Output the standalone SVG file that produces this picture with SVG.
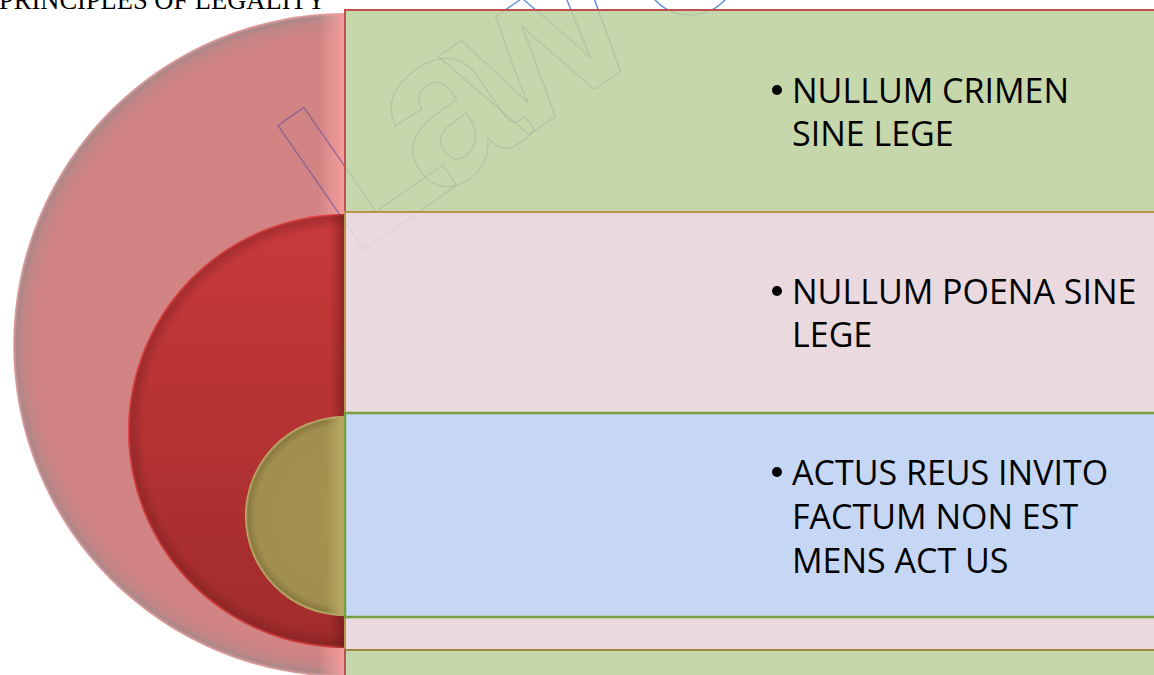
<svg xmlns="http://www.w3.org/2000/svg" width="1154" height="675" viewBox="0 0 1154 675">
<style>
.item{font-family:"Open Sans","Liberation Sans",sans-serif;font-size:34px;fill:#000}
.wm{font-family:"Liberation Sans",Arial,sans-serif;font-weight:bold;font-size:220px;letter-spacing:-35px;fill:none}
.title{font-family:"Liberation Serif","Times New Roman",serif;font-size:26.5px;fill:#000}
</style>
<defs>
<radialGradient id="gBig" gradientUnits="userSpaceOnUse" cx="345" cy="345" r="332">
<stop offset="0" stop-color="#d38383"/>
<stop offset="0.93" stop-color="#d28383"/>
<stop offset="0.975" stop-color="#c08585"/>
<stop offset="0.99" stop-color="#ab8888"/>
<stop offset="1" stop-color="#eba2a2"/>
</radialGradient>
<linearGradient id="gBigR" x1="0" y1="0" x2="1" y2="0">
<stop offset="0" stop-color="#f49f9f" stop-opacity="0"/>
<stop offset="1" stop-color="#f49f9f" stop-opacity="1"/>
</linearGradient>
<linearGradient id="gRed" x1="0" y1="0" x2="0" y2="1">
<stop offset="0" stop-color="#c93a3b"/>
<stop offset="1" stop-color="#a02b2b"/>
</linearGradient>
<radialGradient id="gRedRim" gradientUnits="userSpaceOnUse" cx="345" cy="431" r="217">
<stop offset="0.93" stop-color="#6a1a1a" stop-opacity="0"/>
<stop offset="0.985" stop-color="#6a1a1a" stop-opacity="0.35"/>
<stop offset="1" stop-color="#ff5050" stop-opacity="0.9"/>
</radialGradient>
<linearGradient id="gRedR" x1="0" y1="0" x2="1" y2="0">
<stop offset="0" stop-color="#6a1818" stop-opacity="0"/>
<stop offset="1" stop-color="#6a1818" stop-opacity="0.6"/>
</linearGradient>
<radialGradient id="gOl" gradientUnits="userSpaceOnUse" cx="345" cy="516" r="100">
<stop offset="0" stop-color="#a3924f"/>
<stop offset="0.9" stop-color="#a08f4e"/>
<stop offset="0.97" stop-color="#8a7a40"/>
<stop offset="1" stop-color="#c6b872"/>
</radialGradient>
<linearGradient id="gOlR" x1="0" y1="0" x2="1" y2="0">
<stop offset="0" stop-color="#bcae66" stop-opacity="0"/>
<stop offset="1" stop-color="#bcae66" stop-opacity="1"/>
</linearGradient>
<clipPath id="cBig"><path d="M345,13 A332,332 0 0 0 345,677 Z"/></clipPath>
<clipPath id="cRed"><path d="M345,214 A217,217 0 0 0 345,648 Z"/></clipPath>
<clipPath id="cOl"><path d="M345,416 A100,100 0 0 0 345,616 Z"/></clipPath>
<clipPath id="cGreen"><rect x="346" y="11" width="815" height="200"/></clipPath>
<clipPath id="cPink"><rect x="346" y="213" width="815" height="199"/></clipPath>
<g id="wmShape">
<text class="wm" transform="matrix(0.82 -0.57 0.57 0.82 352 258)">Law</text>
<circle cx="690" cy="-33" r="48" fill="none"/>
</g>
</defs>

<g id="title"><text class="title" x="-1" y="9">PRINCIPLES OF LEGALITY</text></g>

<g id="watermark-base" stroke="#5a8edc" stroke-width="1.4">
<use href="#wmShape"/>
</g>

<g id="circle-outer">
<path d="M345,13 A332,332 0 0 0 345,677 Z" fill="url(#gBig)"/>
<rect x="318" y="10" width="27" height="670" fill="url(#gBigR)" clip-path="url(#cBig)"/>
</g>
<g id="watermark-on-circle" stroke="#7f5b93" stroke-width="1.3" stroke-opacity="0.8" clip-path="url(#cBig)">
<use href="#wmShape"/>
</g>
<g id="circle-middle">
<path d="M345,214 A217,217 0 0 0 345,648 Z" fill="url(#gRed)"/>
<path d="M345,214 A217,217 0 0 0 345,648 Z" fill="url(#gRedRim)"/>
<rect x="330" y="210" width="15" height="440" fill="url(#gRedR)" clip-path="url(#cRed)"/>
</g>
<g id="circle-inner">
<path d="M345,416 A100,100 0 0 0 345,616 Z" fill="url(#gOl)"/>
<rect x="325" y="410" width="20" height="210" fill="url(#gOlR)" clip-path="url(#cOl)"/>
</g>

<g id="box-crimen">
<rect x="345" y="10" width="815" height="202" fill="#c6d7ab" stroke="#c0504d" stroke-width="2"/>
</g>
<g id="box-poena">
<rect x="345" y="212" width="815" height="201" fill="#ead9de" stroke="#b8954a" stroke-width="2"/>
</g>
<g id="box-strip">
<rect x="345" y="617" width="815" height="33" fill="#ead9de" stroke="#b8954a" stroke-width="2"/>
</g>
<g id="box-actus">
<rect x="345" y="413" width="815" height="204" fill="#c6d7f5" stroke="#76a142" stroke-width="2.5"/>
</g>
<g id="box-bottom">
<rect x="345" y="650" width="815" height="40" fill="#c6d7ab" stroke="#b5524f" stroke-width="2"/>
<line x1="345" y1="650" x2="1160" y2="650" stroke="#a88443" stroke-width="2"/>
</g>

<g id="watermark-on-green" stroke="#a3b79c" stroke-width="1.2" stroke-opacity="0.55" clip-path="url(#cGreen)">
<use href="#wmShape"/>
</g>
<g id="watermark-on-pink" stroke="#d8cdd2" stroke-width="1.2" stroke-opacity="0.6" clip-path="url(#cPink)">
<use href="#wmShape"/>
</g>

<g id="texts">
<circle cx="777" cy="90" r="5"/>
<text class="item" x="792" y="103">NULLUM CRIMEN</text>
<text class="item" x="792" y="146">SINE LEGE</text>
<circle cx="777" cy="291" r="5"/>
<text class="item" x="792" y="304">NULLUM POENA SINE</text>
<text class="item" x="792" y="347">LEGE</text>
<circle cx="777" cy="472" r="5"/>
<text class="item" x="792" y="485">ACTUS REUS INVITO</text>
<text class="item" x="792" y="529">FACTUM NON EST</text>
<text class="item" x="792" y="573">MENS ACT US</text>
</g>
</svg>
